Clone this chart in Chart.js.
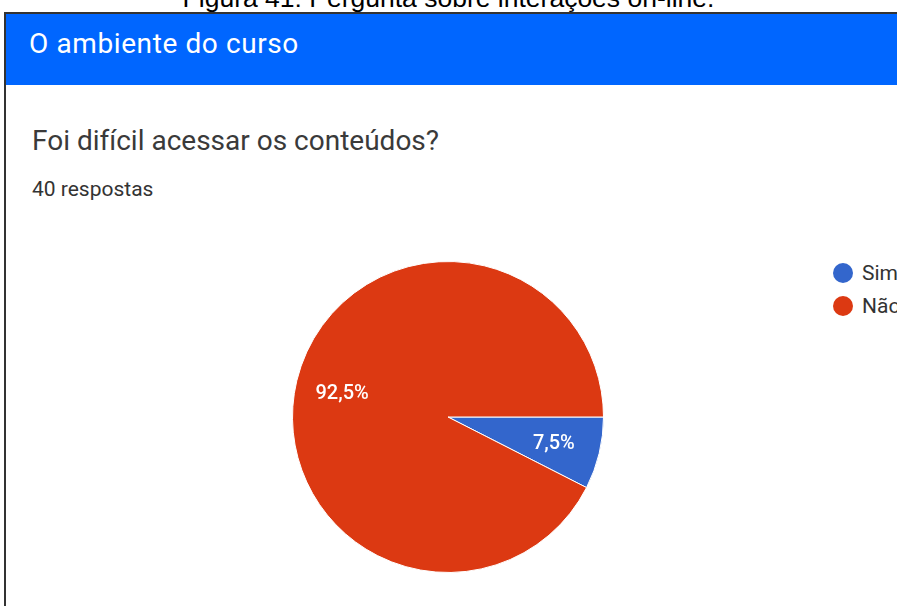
<!DOCTYPE html>
<html>
<head>
<meta charset="utf-8">
<script src="https://cdn.jsdelivr.net/npm/chart.js@4"></script>
<style>
  body { margin: 0; width: 897px; height: 606px; overflow: hidden; background: #fff; position: relative; font-family: Roboto, sans-serif; }
  #caption { position: absolute; left: 0; width: 897px; top: -15px; text-align: center; font: 26.5px "Liberation Sans", Arial, sans-serif; line-height: 27px; color: #000; white-space: nowrap; }
  #card { position: absolute; left: 4px; top: 12px; width: 1000px; height: 700px; border-left: 2px solid #333; border-top: 2px solid #333; }
  #header { position: absolute; left: 0; top: 0; width: 100%; height: 71px; background: #0066ff; }
  #header span { position: absolute; left: 23px; top: 13px; color: #fff; font-size: 28px; letter-spacing: 0.6px; line-height: normal; }
  #question { position: absolute; left: 26px; top: 110px; font-size: 28px; color: #3a3a3a; }
  #count { position: absolute; left: 26px; top: 163px; font-size: 21px; color: #333; }
  #chartbox { position: absolute; left: 292px; top: 261px; width: 312px; height: 312px; }
  #legend { position: absolute; left: 833px; top: 256px; font-size: 21px; color: #333; }
  #legend div { height: 33px; display: flex; align-items: center; white-space: nowrap; }
  #legend i { display: inline-block; width: 20px; height: 20px; border-radius: 50%; margin-right: 9px; }
</style>
</head>
<body>
<div id="caption">Figura 41: Pergunta sobre interações on-line.</div>
<div id="card">
  <div id="header"><span>O ambiente do curso</span></div>
  <div id="question">Foi difícil acessar os conteúdos?</div>
  <div id="count">40 respostas</div>
</div>
<div id="chartbox"><canvas id="pie"></canvas></div>
<div id="legend"></div>
<script>
// answers and counts (40 respostas)
const labels = ["Sim", "Não"];
const counts = [3, 37];
const percentLabels = ["7,5%", "92,5%"];
const colors = ["#3366cc", "#dc3912"];

// legend drawn as html next to the pie
const legend = document.getElementById('legend');
labels.forEach((name, i) => {
    legend.innerHTML += `<div><i style="background:${colors[i]}"></i>${name}</div>`;
});

// write the percentage inside each slice
const sliceText = {
    id: 'sliceText',
    afterDatasetsDraw(chart) {
        const ctx = chart.ctx;
        chart.getDatasetMeta(0).data.forEach((arc, i) => {
            const mid = (arc.startAngle + arc.endAngle) / 2;
            const r = arc.outerRadius * 0.7;
            ctx.save();
            ctx.fillStyle = '#fff';
            ctx.font = '500 20px Roboto';
            ctx.textAlign = 'center';
            ctx.textBaseline = 'middle';
            ctx.fillText(percentLabels[i], arc.x + Math.cos(mid) * r, arc.y + Math.sin(mid) * r + 2);
            ctx.restore();
        });
    }
};

new Chart(document.getElementById('pie'), {
    type: 'pie',
    data: {
        labels: labels,
        datasets: [{
            data: counts,
            backgroundColor: colors,
            borderColor: '#fff',
            borderWidth: 1
        }]
    },
    options: {
        responsive: true,
        maintainAspectRatio: false,
        animation: false,
        rotation: 90,
        plugins: {
            legend: { display: false },
            tooltip: { enabled: false }
        }
    },
    plugins: [sliceText]
});
</script>
</body>
</html>
